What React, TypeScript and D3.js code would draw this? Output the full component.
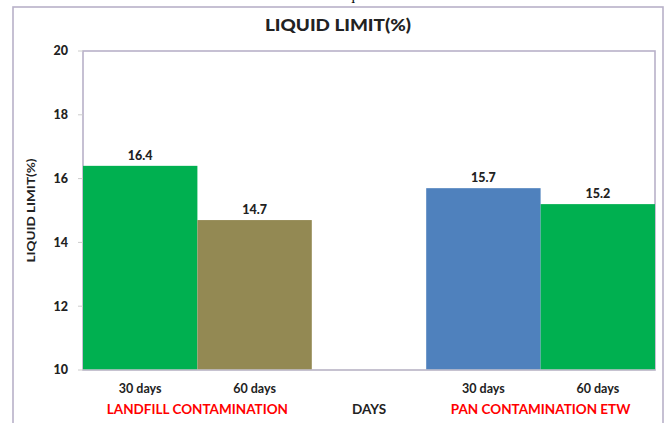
import React from "react";
import * as d3 from "d3";

// Liquid limit (%) of contaminated soil after 30 and 60 days
const categories = ["L30", "L60", "GAP", "P30", "P60"];
const categoryLabels = ["30 days", "60 days", "", "30 days", "60 days"];
const values: (number | null)[] = [16.4, 14.7, null, 15.7, 15.2];
const barColors = ["#00b050", "#938953", "none", "#4f81bd", "#00b050"];
const yTicks = [10, 12, 14, 16, 18, 20];
const groupLabels = [
  { text: "LANDFILL CONTAMINATION", from: "L30", to: "L60", color: "#ff0000" },
  { text: "DAYS", from: "GAP", to: "GAP", color: "#222222" },
  { text: "PAN CONTAMINATION ETW", from: "P30", to: "P60", color: "#ff0000" },
];

const W = 667;
const H = 423;
const FONT = "Lato, 'Open Sans', sans-serif";

export default function App() {
  const x = d3.scaleBand<string>().domain(categories).range([83, 655]).padding(0);
  const y = d3.scaleLinear().domain([10, 20]).range([370, 51]);
  const frameColor = "#b8b1c9";

  return (
    <svg
      width={W}
      height={H}
      style={{ position: "absolute", left: 0, top: 0, background: "#fff" }}
      fontFamily={FONT}
    >
      <rect x={0} y={0} width={W} height={H} fill="#fff" />
      {/* caption above the chart frame, cut off by the page top */}
      <text x={277} y={-1} fontFamily="'Liberation Serif', serif" fontSize={16} fill="#111">
        Table 3: Liquid limit
      </text>
      {/* chart frame */}
      <rect x={13} y={7} width={650} height={440} fill="none" stroke={frameColor} strokeWidth={1.6} />

      <text
        x={338}
        y={31}
        textAnchor="middle"
        fontSize={16}
        fontWeight={900}
        fill="#222"
        textLength={146}
        lengthAdjust="spacingAndGlyphs"
      >
        LIQUID LIMIT(%)
      </text>

      {/* plot area border */}
      <rect
        x={x.range()[0]}
        y={y(20)}
        width={x.range()[1] - x.range()[0]}
        height={y(10) - y(20)}
        fill="none"
        stroke={frameColor}
        strokeWidth={1.6}
      />

      {/* y axis ticks and labels */}
      {yTicks.map((t) => (
        <g key={t}>
          <line x1={78} x2={83} y1={y(t)} y2={y(t)} stroke="#ccc" strokeWidth={1} />
          <text x={68} y={y(t)} dy="0.35em" textAnchor="end" fontSize={12.5} fontWeight={900} fill="#222">
            {t}
          </text>
        </g>
      ))}
      <text
        transform={`translate(35,${(y(10) + y(20)) / 2}) rotate(-90)`}
        textAnchor="middle"
        fontSize={11}
        fontWeight={700}
        fill="#222"
        textLength={104}
        lengthAdjust="spacingAndGlyphs"
      >
        LIQUID LIMIT(%)
      </text>

      {/* bars and value labels */}
      {categories.map((c, i) => {
        const v = values[i];
        if (v == null) return null;
        const x0 = x(c)!;
        return (
          <g key={c}>
            <rect x={x0} y={y(v)} width={x.bandwidth()} height={y(10) - y(v)} fill={barColors[i]} />
            <text
              x={x0 + x.bandwidth() / 2}
              y={y(v) - 6}
              textAnchor="middle"
              fontSize={12.5}
              fontWeight={900}
              fill="#222"
            >
              {v.toFixed(1)}
            </text>
          </g>
        );
      })}

      {/* category axis */}
      <line x1={83} x2={655} y1={y(10)} y2={y(10)} stroke="#c6c3cf" strokeWidth={1.6} />
      {categories.map((c, i) => (
        <text
          key={c}
          x={x(c)! + x.bandwidth() / 2}
          y={393}
          textAnchor="middle"
          fontSize={12.5}
          fontWeight={700}
          fill="#222"
        >
          {categoryLabels[i]}
        </text>
      ))}
      {groupLabels.map((g) => {
        const cx = (x(g.from)! + x(g.to)! + x.bandwidth()) / 2;
        return (
          <text key={g.text} x={cx} y={414} textAnchor="middle" fontSize={13.5} fontWeight={700} fill={g.color}>
            {g.text}
          </text>
        );
      })}
    </svg>
  );
}
